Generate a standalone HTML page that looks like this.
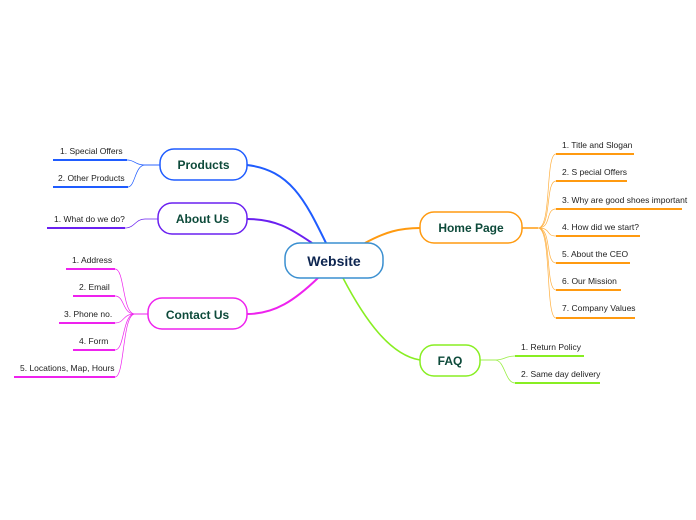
<!DOCTYPE html>
<html><head><style>
body{margin:0;background:#fff;width:696px;height:520px;overflow:hidden}
svg{display:block}
.n{font-family:"Liberation Sans",sans-serif;font-weight:bold;font-size:12px;fill:#0d4a3a;text-anchor:middle}
.l{font-family:"Liberation Sans",sans-serif;font-size:8.5px;fill:#222}
</style></head><body>
<svg width="696" height="520" viewBox="0 0 696 520">
<g fill="none">
<path d="M326,243 C305,200 290,170 247,165" stroke="#1f5cff" stroke-width="2"/>
<path d="M312,243 C290,228 275,219 247,219" stroke="#6a20f0" stroke-width="2"/>
<path d="M318,278 C295,300 275,314 247,314" stroke="#ee22ee" stroke-width="2"/>
<path d="M365,243 C385,232 400,228 420,228" stroke="#ff9a10" stroke-width="2"/>
<path d="M343,278 C365,320 390,355 420,360" stroke="#88ee22" stroke-width="1.6"/>
<g stroke="#1f5cff" stroke-width="0.7">
<path d="M160,165 H145 C135,165 135,160 127,160"/>
<path d="M160,165 H145 C135,165 135,187 128,187"/>
</g>
<g stroke="#1f5cff" stroke-width="2"><path d="M53,160 H127"/><path d="M53,187 H128"/></g>
<path d="M158,219 H145 C135,219 135,228 125,228" stroke="#6a20f0" stroke-width="0.7"/>
<path d="M47,228 H125" stroke="#6a20f0" stroke-width="2"/>
<g stroke="#ee22ee" stroke-width="0.7">
<path d="M148,314 H135 C122,314 125,269 115,269"/>
<path d="M148,314 H135 C122,314 125,296 115,296"/>
<path d="M148,314 H135 C122,314 125,323 115,323"/>
<path d="M148,314 H135 C122,314 125,350 115,350"/>
<path d="M148,314 H135 C122,314 125,377 115,377"/>
</g>
<g stroke="#ee22ee" stroke-width="2">
<path d="M66,269 H115"/><path d="M73,296 H115"/><path d="M59,323 H115"/><path d="M73,350 H115"/><path d="M14,377 H115"/>
</g>
<path d="M522,228 H538" stroke="#ff9a10" stroke-width="1.5"/>
<g stroke="#ffb040" stroke-width="0.7">
<path d="M538,228 C552,228 545,154 556,154"/>
<path d="M538,228 C552,228 545,181 556,181"/>
<path d="M538,228 C552,228 545,209 556,209"/>
<path d="M538,228 C552,228 545,236 556,236"/>
<path d="M538,228 C552,228 545,263 556,263"/>
<path d="M538,228 C552,228 545,290 556,290"/>
<path d="M538,228 C552,228 545,318 556,318"/>
</g>
<g stroke="#ff9a10" stroke-width="2">
<path d="M556,154 H634"/><path d="M556,181 H627"/><path d="M556,209 H682"/><path d="M556,236 H640"/><path d="M556,263 H630"/><path d="M556,290 H621"/><path d="M556,318 H635"/>
</g>
<g stroke="#99ee44" stroke-width="0.8">
<path d="M480,360 H495 C505,360 505,356 515,356"/>
<path d="M480,360 H495 C505,360 505,383 515,383"/>
</g>
<g stroke="#88ee22" stroke-width="2"><path d="M515,356 H584"/><path d="M515,383 H600"/></g>
</g>
<rect x="285" y="243" width="98" height="35" rx="15" fill="#fff" stroke="#3a8fd0" stroke-width="1.5"/>
<text x="334" y="266" class="n" style="font-size:14px;fill:#0d2550">Website</text>
<rect x="160" y="149" width="87" height="31" rx="14" fill="#fff" stroke="#1f5cff" stroke-width="1.5"/>
<text x="203.5" y="169" class="n">Products</text>
<rect x="158" y="203" width="89" height="31" rx="14" fill="#fff" stroke="#6a20f0" stroke-width="1.5"/>
<text x="202.5" y="223" class="n">About Us</text>
<rect x="148" y="298" width="99" height="31" rx="14" fill="#fff" stroke="#ee22ee" stroke-width="1.5"/>
<text x="197.5" y="319" class="n">Contact Us</text>
<rect x="420" y="212" width="102" height="31" rx="14" fill="#fff" stroke="#ff9a10" stroke-width="1.5"/>
<text x="471" y="232" class="n">Home Page</text>
<rect x="420" y="345" width="60" height="31" rx="14" fill="#fff" stroke="#88ee22" stroke-width="1.5"/>
<text x="450" y="365" class="n">FAQ</text>
<text x="60" y="154" class="l">1. Special  Offers</text>
<text x="58" y="181" class="l">2. Other Products</text>
<text x="54" y="222" class="l">1. What do we do?</text>
<text x="72" y="263" class="l">1. Address</text>
<text x="79" y="290" class="l">2. Email</text>
<text x="64" y="317" class="l">3. Phone  no.</text>
<text x="79" y="344" class="l">4.  Form</text>
<text x="20" y="371" class="l">5.  Locations,  Map, Hours</text>
<text x="562" y="148" class="l">1. Title and Slogan</text>
<text x="562" y="175" class="l">2. S pecial Offers</text>
<text x="562" y="203" class="l">3. Why are  good shoes important</text>
<text x="562" y="230" class="l">4. How did we start?</text>
<text x="562" y="257" class="l">5. About the CEO</text>
<text x="562" y="284" class="l">6. Our Mission</text>
<text x="562" y="311" class="l">7. Company Values</text>
<text x="521" y="350" class="l">1.  Return Policy</text>
<text x="521" y="377" class="l">2.  Same day delivery</text>
</svg>
</body></html>
